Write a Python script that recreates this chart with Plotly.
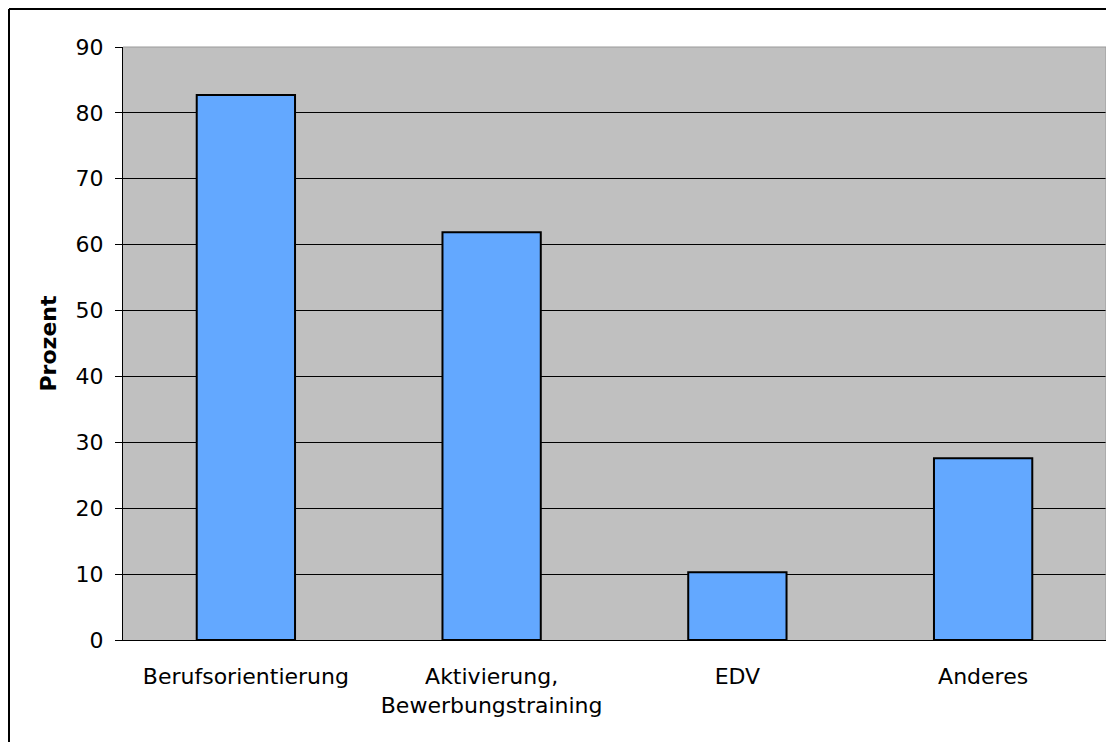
import plotly.graph_objects as go

categories = ["Berufsorientierung", "Aktivierung,<br>Bewerbungstraining", "EDV", "Anderes"]
values = [82.7, 61.9, 10.3, 27.6]
y_ticks = [0, 10, 20, 30, 40, 50, 60, 70, 80, 90]

FONT = "DejaVu Sans"

# page body has an 8px offset; size figure so it ends at the window edge
W, H = 1106, 734
L, R, T, B = 115, 8, 39, 102

fig = go.Figure(go.Bar(
    x=categories, y=values,
    marker=dict(color="#63A8FF", line=dict(color="black", width=2)),
    width=0.4,
))

fig.update_layout(
    width=W, height=H,
    margin=dict(l=L, r=R, t=T, b=B),
    paper_bgcolor="white",
    plot_bgcolor="#C0C0C0",
    font=dict(family=FONT, size=22, color="black"),
    showlegend=False,
    bargap=0.6,
)
fig.update_xaxes(
    showgrid=False, showline=True, linecolor="black", linewidth=1,
    ticks="", tickfont=dict(size=22), ticklabelstandoff=17,
)
fig.update_yaxes(
    range=[0, 90], tickvals=y_ticks, showgrid=True, gridcolor="black", gridwidth=1,
    showline=True, linecolor="black", linewidth=1,
    ticks="outside", ticklen=7, tickcolor="black",
    tickfont=dict(size=22), ticklabelstandoff=7,
    title=dict(text="<b>Prozent</b>", font=dict(size=22), standoff=12),
    zeroline=False,
)
# plot area top/right border in gray
fig.add_shape(type="line", xref="paper", yref="paper", x0=0, x1=1, y0=1, y1=1,
              line=dict(color="#999999", width=1))
fig.add_shape(type="line", xref="paper", yref="paper", x0=1, x1=1, y0=0, y1=1,
              line=dict(color="#999999", width=1))
# outer chart border (top and left visible)
pw, ph = W - L - R, H - T - B
fig.add_shape(type="line", xref="paper", yref="paper",
              x0=(1 - L) / pw, x1=(W + 20 - L) / pw,
              y0=(H - B - 1) / ph, y1=(H - B - 1) / ph,
              line=dict(color="black", width=2))
fig.add_shape(type="line", xref="paper", yref="paper",
              x0=(1 - L) / pw, x1=(1 - L) / pw,
              y0=(H - B - 1) / ph, y1=-(B + 20) / ph,
              line=dict(color="black", width=2))

fig.write_html("out.html")
